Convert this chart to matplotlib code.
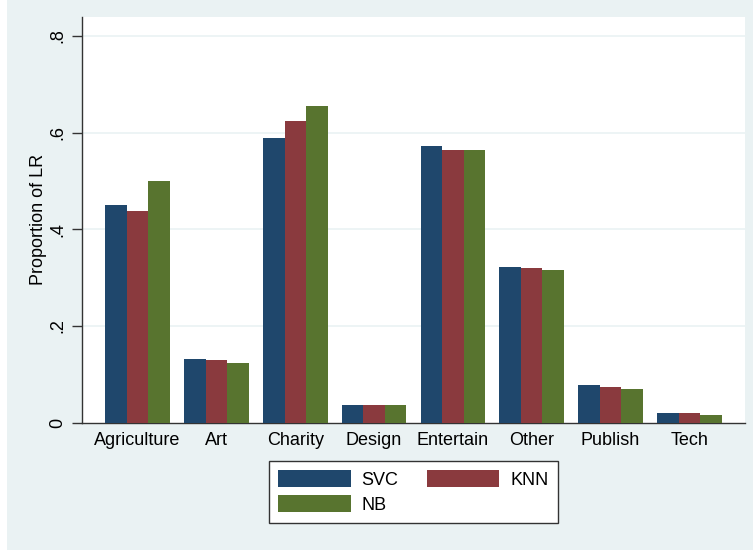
import matplotlib
matplotlib.use("Agg")
import matplotlib.pyplot as plt
from matplotlib.patches import Rectangle, Patch
import numpy as np

categories = ["Agriculture", "Art", "Charity", "Design", "Entertain", "Other", "Publish", "Tech"]
series_names = ["SVC", "KNN", "NB"]
svc = [0.450, 0.132, 0.588, 0.037, 0.572, 0.322, 0.078, 0.020]
knn = [0.438, 0.129, 0.623, 0.037, 0.564, 0.319, 0.074, 0.020]
nb = [0.500, 0.123, 0.656, 0.037, 0.563, 0.315, 0.070, 0.016]
yticks = [0, 0.2, 0.4, 0.6, 0.8]
ytick_labels = ["0", ".2", ".4", ".6", ".8"]
colors = ["#1F476C", "#8A3A3E", "#58742F"]

plt.rcParams['font.family'] = ['Liberation Sans', 'DejaVu Sans']

W, H = 753, 550
fig = plt.figure(figsize=(W / 100, H / 100), dpi=100, facecolor="white")
# outer graph region
fig.patches.append(Rectangle((7 / W, 0), 1 - 7 / W, 1, transform=fig.transFigure,
                             facecolor="#EAF2F3", edgecolor="none", zorder=-10))

left, right, top, bottom = 82, 745, 16.7, 422.7
ax = fig.add_axes([left / W, 1 - bottom / H, (right - left) / W, (bottom - top) / H])
ax.set_facecolor("white")

x = np.arange(len(categories))
bw = 0.82 / 3
bars = []
for i, (vals, c) in enumerate(zip([svc, knn, nb], colors)):
    b = ax.bar(x + (i - 1) * bw, vals, width=bw, color=c, edgecolor="none", zorder=3,
               label=series_names[i])
    bars.append(b)

ax.set_xlim(-0.706, len(categories) - 1 + 0.706)
ax.set_ylim(0, 0.8397)

for v in yticks[1:]:
    ax.axhline(v, color="#EAF2F3", lw=1.2, zorder=1)

ax.set_yticks(yticks)
ax.set_yticklabels(ytick_labels, rotation=90, va="center", fontsize=13)
ax.tick_params(axis="y", length=7, width=1, color="#333333", pad=4)
ax.set_xticks(x)
ax.set_xticklabels(categories, fontsize=13)
ax.tick_params(axis="x", length=0, pad=7)

for s in ["top", "right"]:
    ax.spines[s].set_visible(False)
for s in ["left", "bottom"]:
    ax.spines[s].set_color("#333333")
    ax.spines[s].set_linewidth(1)

ax.set_ylabel("Proportion of LR", fontsize=13, labelpad=2)

handles = [Patch(facecolor=c, edgecolor="none") for c in colors]
# order so that rows read SVC, KNN / NB
order = [0, 2, 1]
leg = fig.legend([handles[i] for i in order], [series_names[i] for i in order],
                 ncol=2, loc="upper center",
                 bbox_to_anchor=(413.5 / W, 1 - 460.7 / H), frameon=True,
                 fancybox=False, framealpha=1, edgecolor="#333333", fontsize=13,
                 borderpad=0.5, borderaxespad=0, handlelength=4, handleheight=1.1,
                 labelspacing=0.36, handletextpad=0.6, columnspacing=1.6)
leg.get_frame().set_linewidth(1)

fig.savefig("out.png", dpi=100, facecolor=fig.get_facecolor())
